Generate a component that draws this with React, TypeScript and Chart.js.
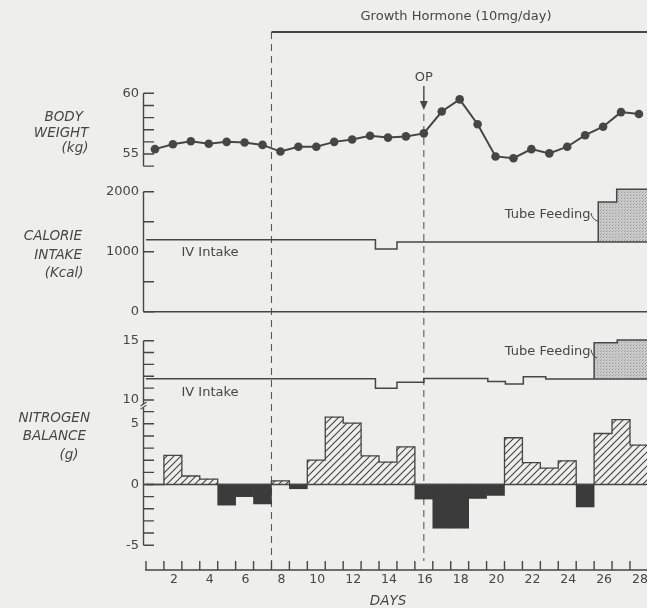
import React, { useEffect, useRef } from 'react';
import { Chart, registerables } from 'chart.js';

Chart.register(...registerables);

// ---------------- data ----------------
const days = [1, 2, 3, 4, 5, 6, 7, 8, 9, 10, 11, 12, 13, 14, 15, 16, 17, 18, 19, 20, 21, 22, 23, 24, 25, 26, 27, 28];

const bodyWeight = [55.4, 55.8, 56.05, 55.85, 56.0, 55.95, 55.75, 55.2, 55.6, 55.6, 56.0, 56.2, 56.5, 56.35, 56.45, 56.7, 58.5, 59.5, 57.45, 54.8, 54.65, 55.4, 55.05, 55.6, 56.55, 57.25, 58.45, 58.3];

const nitrogenBalance = [0, 2.4, 0.7, 0.45, -1.7, -1.0, -1.6, 0.3, -0.35, 2.0, 5.55, 5.05, 2.35, 1.85, 3.1, -1.2, -3.6, -3.6, -1.15, -0.9, 3.85, 1.8, 1.35, 1.95, -1.85, 4.2, 5.35, 3.25];

// step series: day breakpoints and the level held between them
const calorieIvBreaks = [0.5, 13.3, 14.5, 28.45];
const calorieIvLevels = [1200, 1045, 1160];
const calorieTubeBreaks = [25.73, 26.76, 28.45];
const calorieTubeLevels = [1830, 2040];

const nitrogenIvBreaks = [0.5, 13.3, 14.5, 16, 19.57, 20.55, 21.55, 22.8, 28.45];
const nitrogenIvLevels = [11.8, 11.0, 11.5, 11.82, 11.55, 11.35, 11.95, 11.78];
const nitrogenTubeBreaks = [25.5, 26.79, 28.45];
const nitrogenTubeLevels = [14.83, 15.06];

// axis ticks
const dayTickBoundaries = [0.5, 1.5, 2.5, 3.5, 4.5, 5.5, 6.5, 7.5, 8.5, 9.5, 10.5, 11.5, 12.5, 13.5, 14.5, 15.5, 16.5, 17.5, 18.5, 19.5, 20.5, 21.5, 22.5, 23.5, 24.5, 25.5, 26.5, 27.5];
const dayLabels = [2, 4, 6, 8, 10, 12, 14, 16, 18, 20, 22, 24, 26, 28];
const weightTicks = [54, 55, 56, 57, 58, 59, 60];
const weightLabels = [55, 60];
const calorieTicks = [0, 500, 1000, 1500, 2000];
const calorieLabels = [0, 1000, 2000];
const intakeTicks = [10, 11, 12, 13, 14, 15];
const intakeLabels = [10, 15];
const balanceTicks = [-5, -4, -3, -2, -1, 0, 1, 2, 3, 4, 5, 6];
const balanceLabels = [-5, 0, 5];

const hormoneStartDay = 7.5;
const opDay = 16;

// ---------------- layout ----------------
const W = 647;
const H = 608;
const AREA = { left: 146, top: 32, right: 647, bottom: 570 };
const AXIS_X = 143.5;
const TICK = 10.5;
const INK = '#464646';
const BG = '#eeeeec';
const FONT = '"DejaVu Sans", "Noto Sans", sans-serif';

function anchor(v1: number, p1: number, v2: number, p2: number) {
  const k = (p2 - p1) / (v1 - v2);
  return { min: v1 - (AREA.bottom - p1) / k, max: v1 + (p1 - AREA.top) / k };
}

function stepPoints(breaks: number[], levels: number[]) {
  const pts: { x: number; y: number }[] = [];
  levels.forEach((v, i) => {
    pts.push({ x: breaks[i], y: v });
    pts.push({ x: breaks[i + 1], y: v });
  });
  return pts;
}

function levelAt(breaks: number[], levels: number[], x: number) {
  for (let i = 0; i < levels.length; i++) {
    if (x >= breaks[i] && x <= breaks[i + 1]) return levels[i];
  }
  return levels[levels.length - 1];
}

function tubePoints(tb: number[], tl: number[], ib: number[], il: number[]) {
  return [{ x: tb[0], y: levelAt(ib, il, tb[0]) }, ...stepPoints(tb, tl)];
}

function makeHatch() {
  const c = document.createElement('canvas');
  const s = 7;
  c.width = s;
  c.height = s;
  const g = c.getContext('2d')!;
  g.strokeStyle = INK;
  g.lineWidth = 1.15;
  g.beginPath();
  g.moveTo(-1, s + 1);
  g.lineTo(s + 1, -1);
  g.moveTo(-1, 1);
  g.lineTo(1, -1);
  g.moveTo(s - 1, s + 1);
  g.lineTo(s + 1, s - 1);
  g.stroke();
  return g.createPattern(c, 'repeat')!;
}

function makeStipple() {
  const c = document.createElement('canvas');
  c.width = 3;
  c.height = 3;
  const g = c.getContext('2d')!;
  g.fillStyle = '#cacaca';
  g.fillRect(0, 0, 3, 3);
  g.fillStyle = '#9a9a9a';
  g.fillRect(0, 0, 1, 1);
  g.fillStyle = '#b2b2b2';
  g.fillRect(1, 2, 1, 1);
  return g.createPattern(c, 'repeat')!;
}

function text(ctx: CanvasRenderingContext2D, s: string, x: number, y: number, align: CanvasTextAlign, font: string) {
  ctx.font = font;
  ctx.textAlign = align;
  ctx.textBaseline = 'middle';
  ctx.fillText(s, x, y);
}

function yAxis(ctx: CanvasRenderingContext2D, scale: any, ticks: number[], labels: number[], from: number, to: number) {
  ctx.beginPath();
  ctx.moveTo(AXIS_X, scale.getPixelForValue(from));
  ctx.lineTo(AXIS_X, scale.getPixelForValue(to));
  ticks.forEach((v) => {
    const y = scale.getPixelForValue(v);
    ctx.moveTo(AXIS_X, y);
    ctx.lineTo(AXIS_X + TICK, y);
  });
  ctx.stroke();
  labels.forEach((v) => {
    text(ctx, String(v), AXIS_X - 4.5, scale.getPixelForValue(v), 'right', `13px ${FONT}`);
  });
}

const decor = {
  id: 'decor',
  beforeDraw(chart: any) {
    const { ctx } = chart;
    ctx.save();
    ctx.fillStyle = BG;
    ctx.fillRect(0, 0, chart.width, chart.height);
    ctx.restore();
  },
  beforeDatasetsDraw(chart: any) {
    const { ctx } = chart;
    const x = chart.scales.x;
    ctx.save();
    ctx.strokeStyle = '#5a5a5a';
    ctx.lineWidth = 1.1;
    ctx.setLineDash([7, 5]);
    const gx = x.getPixelForValue(hormoneStartDay);
    ctx.beginPath();
    ctx.moveTo(gx, AREA.top);
    ctx.lineTo(gx, 561);
    const ox = x.getPixelForValue(opDay);
    ctx.moveTo(ox, 114);
    ctx.lineTo(ox, 561);
    ctx.stroke();
    ctx.restore();
  },
  afterDatasetsDraw(chart: any) {
    const { ctx } = chart;
    const x = chart.scales.x;
    const yW = chart.scales.yW;
    const yCal = chart.scales.yCal;
    const yNi = chart.scales.yNi;
    const yBal = chart.scales.yBal;
    ctx.save();
    ctx.strokeStyle = INK;
    ctx.fillStyle = INK;
    ctx.lineWidth = 1.4;

    // growth hormone bar
    const gx = x.getPixelForValue(hormoneStartDay);
    ctx.beginPath();
    ctx.lineWidth = 2;
    ctx.moveTo(gx, AREA.top);
    ctx.lineTo(AREA.right, AREA.top);
    ctx.stroke();
    ctx.lineWidth = 1.4;
    text(ctx, 'Growth Hormone (10mg/day)', 456, 16.5, 'center', `13px ${FONT}`);

    // OP arrow
    const ox = x.getPixelForValue(opDay);
    text(ctx, 'OP', ox, 78, 'center', `13px ${FONT}`);
    ctx.beginPath();
    ctx.moveTo(ox, 86);
    ctx.lineTo(ox, 103);
    ctx.stroke();
    ctx.beginPath();
    ctx.moveTo(ox - 4, 101);
    ctx.lineTo(ox + 4, 101);
    ctx.lineTo(ox, 110);
    ctx.closePath();
    ctx.fill();

    // y axes
    yAxis(ctx, yW, weightTicks, weightLabels, 54, 60);
    yAxis(ctx, yCal, calorieTicks, calorieLabels, 0, 2000);
    // calorie baseline
    ctx.beginPath();
    ctx.moveTo(AXIS_X, yCal.getPixelForValue(0));
    ctx.lineTo(AREA.right, yCal.getPixelForValue(0));
    ctx.stroke();

    // nitrogen intake (upper part) and balance (lower part) share one broken axis
    const breakTop = yNi.getPixelForValue(10) + 4;
    const breakBot = yBal.getPixelForValue(6) - 4.5;
    ctx.beginPath();
    ctx.moveTo(AXIS_X, yNi.getPixelForValue(15));
    ctx.lineTo(AXIS_X, breakTop);
    ctx.moveTo(AXIS_X, breakBot);
    ctx.lineTo(AXIS_X, yBal.getPixelForValue(-5));
    intakeTicks.forEach((v) => {
      const y = yNi.getPixelForValue(v);
      ctx.moveTo(AXIS_X, y);
      ctx.lineTo(AXIS_X + TICK, y);
    });
    balanceTicks.forEach((v) => {
      const y = yBal.getPixelForValue(v);
      ctx.moveTo(AXIS_X, y);
      ctx.lineTo(AXIS_X + TICK, y);
    });
    ctx.stroke();
    ctx.lineWidth = 1.1;
    ctx.beginPath();
    ctx.moveTo(AXIS_X - 3, breakTop + 2);
    ctx.lineTo(AXIS_X + 3, breakTop - 2);
    ctx.moveTo(AXIS_X - 3, breakBot + 2);
    ctx.lineTo(AXIS_X + 3, breakBot - 2);
    ctx.stroke();
    ctx.lineWidth = 1.4;
    intakeLabels.forEach((v) => text(ctx, String(v), AXIS_X - 4.5, yNi.getPixelForValue(v), 'right', `13px ${FONT}`));
    balanceLabels.forEach((v) => text(ctx, String(v), AXIS_X - 4.5, yBal.getPixelForValue(v), 'right', `13px ${FONT}`));
    // balance zero line
    ctx.beginPath();
    ctx.moveTo(AXIS_X, yBal.getPixelForValue(0));
    ctx.lineTo(AREA.right, yBal.getPixelForValue(0));
    ctx.stroke();

    // x axis
    const xb = AREA.bottom;
    ctx.beginPath();
    ctx.moveTo(x.getPixelForValue(0.5) - 1, xb);
    ctx.lineTo(AREA.right, xb);
    dayTickBoundaries.forEach((d) => {
      const px = x.getPixelForValue(d);
      ctx.moveTo(px, xb);
      ctx.lineTo(px, xb - 9);
    });
    ctx.stroke();
    dayLabels.forEach((d) => text(ctx, String(d), x.getPixelForValue(d) + 1, 580, 'center', `12.5px ${FONT}`));

    // panel titles
    const it = `italic 13.5px ${FONT}`;
    text(ctx, 'BODY', 83, 117.5, 'right', it);
    text(ctx, 'WEIGHT', 88.5, 133, 'right', it);
    text(ctx, '(kg)', 88.5, 148.5, 'right', it);
    text(ctx, 'CALORIE', 82, 236.5, 'right', it);
    text(ctx, 'INTAKE', 82, 255, 'right', it);
    text(ctx, '(Kcal)', 83.5, 273, 'right', it);
    text(ctx, 'NITROGEN', 90, 418, 'right', it);
    text(ctx, 'BALANCE', 86, 436.5, 'right', it);
    text(ctx, '(g)', 78.5, 455.5, 'right', it);
    text(ctx, 'DAYS', 388, 601.5, 'center', it);

    // annotations
    const an = `13px ${FONT}`;
    text(ctx, 'IV Intake', 181.5, 252.5, 'left', an);
    text(ctx, 'IV Intake', 181.5, 392.5, 'left', an);
    text(ctx, 'Tube Feeding', 590.5, 215, 'right', an);
    text(ctx, 'Tube Feeding', 590.5, 351.5, 'right', an);
    ctx.lineWidth = 1;
    ctx.beginPath();
    ctx.moveTo(591, 213);
    ctx.quadraticCurveTo(592, 220, 599, 221.5);
    ctx.moveTo(591, 349.5);
    ctx.quadraticCurveTo(592, 356.5, 597, 358);
    ctx.stroke();

    ctx.restore();
  },
};

export default function App() {
  const ref = useRef<HTMLCanvasElement | null>(null);

  useEffect(() => {
    if (!ref.current) return;
    const hatch = makeHatch();
    const stipple = makeStipple();

    const balanceOutline: { x: number; y: number }[] = [];
    days.forEach((d, i) => {
      const v = Math.max(nitrogenBalance[i], 0);
      balanceOutline.push({ x: d - 0.5, y: v });
      balanceOutline.push({ x: d + 0.5, y: v });
    });

    const lineBase = { pointRadius: 0, borderColor: INK, borderWidth: 1.5, tension: 0, fill: false };

    const chart = new Chart(ref.current, {
      type: 'line',
      data: {
        datasets: [
          {
            label: 'Body weight',
            yAxisID: 'yW',
            data: days.map((d, i) => ({ x: d, y: bodyWeight[i] })),
            borderColor: INK,
            backgroundColor: INK,
            borderWidth: 2,
            pointRadius: 4.3,
            pointBorderWidth: 0,
            tension: 0,
            fill: false,
            order: 0,
          } as any,
          {
            ...lineBase,
            label: 'Calorie IV intake',
            yAxisID: 'yCal',
            data: stepPoints(calorieIvBreaks, calorieIvLevels),
            order: 0,
          },
          {
            ...lineBase,
            label: 'Calorie tube feeding',
            yAxisID: 'yCal',
            data: tubePoints(calorieTubeBreaks, calorieTubeLevels, calorieIvBreaks, calorieIvLevels),
            fill: 1,
            backgroundColor: stipple,
            order: 0,
          },
          {
            ...lineBase,
            label: 'Nitrogen IV intake',
            yAxisID: 'yNi',
            data: stepPoints(nitrogenIvBreaks, nitrogenIvLevels),
            order: 0,
          },
          {
            ...lineBase,
            label: 'Nitrogen tube feeding',
            yAxisID: 'yNi',
            data: tubePoints(nitrogenTubeBreaks, nitrogenTubeLevels, nitrogenIvBreaks, nitrogenIvLevels),
            fill: 3,
            backgroundColor: stipple,
            order: 0,
          },
          {
            ...lineBase,
            label: 'Balance outline',
            yAxisID: 'yBal',
            data: balanceOutline,
            borderWidth: 1.3,
            order: 0,
          },
          {
            type: 'bar',
            label: 'Nitrogen balance',
            yAxisID: 'yBal',
            data: days.map((d, i) => ({ x: d, y: nitrogenBalance[i] })),
            backgroundColor: (c: any) => (c.raw && c.raw.y < 0 ? '#3b3b3b' : hatch),
            borderWidth: 0,
            barPercentage: 1,
            categoryPercentage: 1,
            order: 10,
          } as any,
        ],
      },
      options: {
        responsive: false,
        animation: false,
        devicePixelRatio: 1,
        events: [],
        layout: {
          autoPadding: false,
          padding: { left: AREA.left, top: AREA.top, right: W - AREA.right, bottom: H - AREA.bottom },
        },
        plugins: {
          legend: { display: false },
          tooltip: { enabled: false },
          title: { display: false },
        },
        scales: {
          x: { type: 'linear', min: 0.5, max: 28.45, display: false, offset: false, bounds: 'data' },
          yW: { type: 'linear', display: false, bounds: 'data', ...anchor(60, 93.3, 55, 154) },
          yCal: { type: 'linear', display: false, bounds: 'data', ...anchor(2000, 191.7, 0, 311.7) },
          yNi: { type: 'linear', display: false, bounds: 'data', ...anchor(15, 340.7, 10, 400) },
          yBal: { type: 'linear', display: false, bounds: 'data', ...anchor(5, 423.8, -5, 545.2) },
        } as any,
      },
      plugins: [decor],
    });
    return () => chart.destroy();
  }, []);

  return (
    <div style={{ position: 'absolute', left: 0, top: 0, width: W, height: H }}>
      <canvas ref={ref} width={W} height={H} style={{ display: 'block', width: W, height: H }} />
    </div>
  );
}
